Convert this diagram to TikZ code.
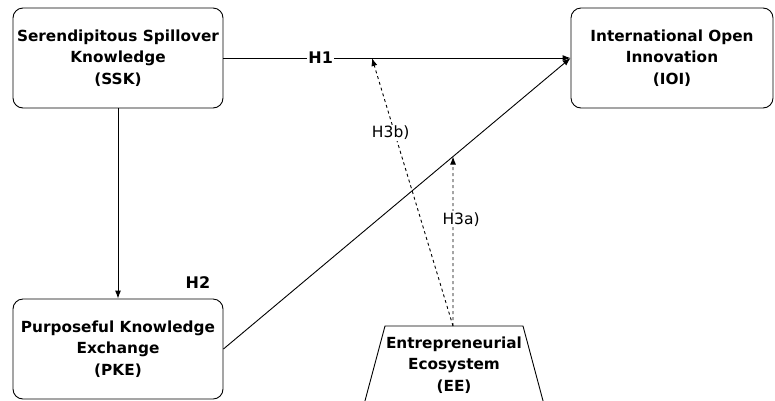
\documentclass[tikz,border=0pt]{standalone}
\usepackage{fontspec}
\setmainfont{DejaVu Sans}
\usetikzlibrary{arrows.meta}
\begin{document}
\begin{tikzpicture}[
  x = 1pt, y = -1pt,
  line width = 0.9pt,
  construct/.style = {
    shape = rectangle,
    draw = black,
    rounded corners = 10pt,
    minimum width = 210pt,
    minimum height = 100pt,
    inner sep = 0pt,
    align = center,
    font = \fontsize{15.3}{21.5}\selectfont\bfseries,
  },
  hyp/.style = {
    font = \fontsize{15.5}{18}\selectfont,
    fill = white,
    inner sep = 1pt,
  },
  hypbold/.style = {
    hyp,
    font = \fontsize{16}{18}\selectfont\bfseries,
  }
]
  \useasboundingbox (0, 0) rectangle (775, 400);
  \clip (0, 0) rectangle (775, 400);

  \node[construct] (ssk) at (118, 58) {Serendipitous Spillover\\Knowledge\\(SSK)};
  \node[construct, minimum width = 202pt] (ioi) at (672, 58) {International Open\\Innovation\\(IOI)};
  \node[construct] (pke) at (118, 349) {Purposeful Knowledge\\Exchange\\(PKE)};

  % trapezium, cut by the lower edge
  \draw (385, 326) -- (523, 326) -- (546, 412) -- (362, 412) -- cycle;
  \node[align = center, font = \fontsize{15.3}{21.5}\selectfont\bfseries] (ee) at (454, 365) {Entrepreneurial\\Ecosystem\\(EE)};
  \coordinate (eetop) at (453, 326);
  \coordinate (h3bend) at (372, 58);
  \coordinate (h3aend) at (intersection of pke.east--ioi.west and eetop--453,0);

  \node[hypbold] (h2) at (198, 283) {H2};

  \begin{scope}[
    every path/.style = {-{Latex[length = 8pt, width = 6pt]}}
  ]
    \draw (ssk.east) -- (ioi.west)
      node[hypbold, pos = 0.28] {H1};
    \draw (ssk.south) -- (pke.north);
    \draw (pke.east) -- (ioi.west);

    \draw[dashed] (eetop) -- (h3aend)
      node[hyp, pos = 0.63, xshift = 8pt] {H3a)};
    \draw[dashed] (eetop) -- (h3bend)
      node[hyp, pos = 0.72, xshift = -4pt] {H3b)};
  \end{scope}
\end{tikzpicture}
\end{document}
